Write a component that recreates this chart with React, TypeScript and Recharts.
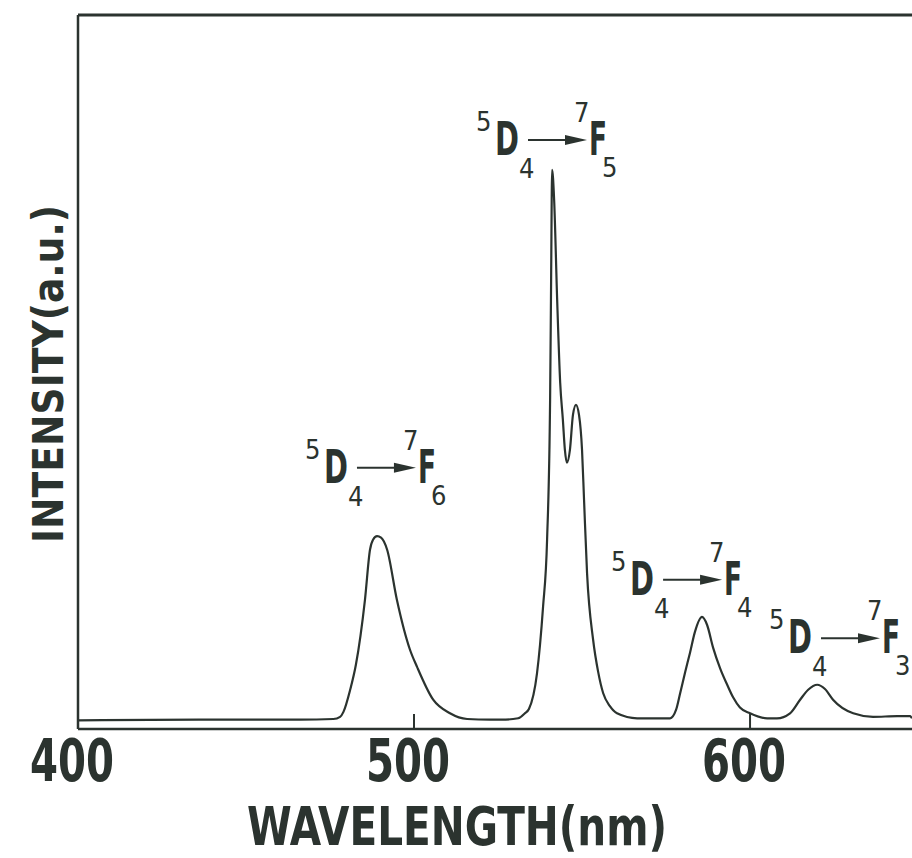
import { LineChart, Line, XAxis, YAxis, ReferenceLine, ReferenceDot } from 'recharts';

// Tb3+ emission spectrum, 5D4 -> 7FJ transitions
const wavelengths = [
  400.0, 436.0, 466.0, 476.0, 478.0, 479.0, 481.0, 482.7, 485.4, 486.9,
  487.8, 489.0, 490.2, 492.0, 494.9, 498.8, 500.9, 505.7, 510.7, 515.8,
  522.6, 526.0, 531.0, 533.0, 534.2, 536.6, 537.5, 538.4, 539.6, 540.5,
  540.8, 541.1, 541.7, 542.6, 543.5, 544.3, 544.9, 545.5, 546.4, 547.3,
  548.2, 549.1, 550.0, 550.6, 551.5, 553.3, 554.8, 556.3, 558.3, 560.4,
  566.4, 576.2, 578.0, 579.2, 580.7, 582.1, 583.6, 585.7, 587.2, 589.0,
  591.1, 593.2, 595.0, 597.0, 600.0, 605.1, 608.0, 611.9, 614.9, 617.3,
  620.0, 622.3, 624.7, 630.7, 636.6, 643.8, 647.6, 648.2,
];
const intensities = [
  1.2, 1.3, 1.3, 1.4, 1.7, 2.4, 5.5, 9.0, 18.1, 25.1,
  26.5, 27.0, 26.8, 25.1, 18.1, 11.1, 8.7, 4.1, 2.2, 1.4,
  1.3, 1.3, 1.5, 2.2, 2.8, 7.8, 11.8, 17.1, 26.5, 46.1,
  62.9, 78.3, 74.1, 60.1, 48.5, 43.3, 39.1, 37.3, 39.1, 44.0,
  45.4, 44.0, 39.1, 32.1, 21.8, 12.5, 8.0, 5.0, 3.2, 2.2,
  1.5, 1.5, 2.7, 5.0, 8.0, 10.6, 13.6, 15.7, 14.6, 11.4,
  8.5, 6.2, 4.4, 3.0, 2.2, 1.5, 1.5, 2.2, 4.1, 5.5,
  6.2, 5.6, 4.1, 2.2, 1.7, 1.8, 1.8, 1.5,
];
const xTicks = [400, 500, 600];
// final J of each 5D4 -> 7FJ band
const finalJ = ['6', '5', '4', '3'];

const spectrum = wavelengths.map((w, i) => ({ w, y: intensities[i] }));

// where each transition label sits (wavelength, intensity)
const labelAnchors: [number, number][] = [
  [473.2, 34.5],
  [524.1, 80.4],
  [564.3, 18.8],
  [611.3, 10.6],
];

const INK = '#2b332f';
const FONT = '"Liberation Sans Narrow", "DejaVu Sans Condensed", "Arial Narrow", sans-serif';

const TransitionLabel = ({ cx, cy, j }: any) => {
  const x = cx;
  const y = cy;
  return (
    <g fill={INK} fontFamily={FONT} style={{ fontStretch: 'condensed' }}>
      <text x={x - 19} y={y - 24} fontSize={27}>5</text>
      <text x={x} y={y} fontSize={46} fontWeight="bold" textLength={24} lengthAdjust="spacingAndGlyphs">D</text>
      <text x={x + 24} y={y + 23} fontSize={27}>4</text>
      <line x1={x + 33} y1={y - 15} x2={x + 74} y2={y - 15} stroke={INK} strokeWidth={2} />
      <polygon points={`${x + 70},${y - 20} ${x + 92},${y - 15} ${x + 70},${y - 10}`} />
      <text x={x + 79} y={y - 33} fontSize={27}>7</text>
      <text x={x + 94} y={y} fontSize={46} fontWeight="bold" textLength={18} lengthAdjust="spacingAndGlyphs">F</text>
      <text x={x + 107} y={y + 22} fontSize={27}>{j}</text>
    </g>
  );
};

const WaveTick = ({ x, y, payload }: any) => (
  <g>
    <line x1={x} y1={y} x2={x} y2={y - 15} stroke={INK} strokeWidth={2} />
    <text
      x={x - 6}
      y={y + 52}
      textAnchor="middle"
      fontSize={58}
      fontWeight="bold"
      fontFamily={FONT}
      fill={INK}
      textLength={84}
      lengthAdjust="spacingAndGlyphs"
    >
      {payload.value}
    </text>
  </g>
);

export default function App() {
  return (
    <div style={{ width: 912, height: 858, background: '#fff' }}>
      <style>{'body{margin:0}'}</style>
      <LineChart
        width={912}
        height={858}
        data={spectrum}
        margin={{ top: 15, right: 0, bottom: 0, left: 0 }}
      >
        <XAxis
          dataKey="w"
          type="number"
          domain={[400, 648.2]}
          allowDataOverflow
          ticks={xTicks}
          height={129}
          tickSize={0}
          tickMargin={0}
          tickLine={false}
          axisLine={{ stroke: INK, strokeWidth: 2.5 }}
          tick={<WaveTick />}
          label={{
            content: () => (
              <text
                x={457}
                y={845}
                textAnchor="middle"
                fontSize={54}
                fontWeight="bold"
                fontFamily={FONT}
                fill={INK}
                textLength={420}
                lengthAdjust="spacingAndGlyphs"
              >
                WAVELENGTH(nm)
              </text>
            ),
          }}
        />
        <YAxis
          type="number"
          domain={[0, 100]}
          allowDataOverflow
          width={78}
          tick={false}
          tickLine={false}
          axisLine={{ stroke: INK, strokeWidth: 2.5 }}
          label={{
            content: () => (
              <text
                x={63}
                y={374}
                transform="rotate(-90 63 374)"
                textAnchor="middle"
                fontSize={43}
                fontWeight="bold"
                fontFamily={FONT}
                fill={INK}
                textLength={338}
                lengthAdjust="spacingAndGlyphs"
              >
                INTENSITY(a.u.)
              </text>
            ),
          }}
        />
        <ReferenceLine y={100} stroke={INK} strokeWidth={3} />
        <Line
          type="monotone"
          dataKey="y"
          stroke={INK}
          strokeWidth={2.2}
          dot={false}
          isAnimationActive={false}
        />
        {labelAnchors.map(([w, v], i) => (
          <ReferenceDot
            key={finalJ[i]}
            x={w}
            y={v}
            r={0}
            ifOverflow="visible"
            shape={(p: any) => <TransitionLabel cx={p.cx} cy={p.cy} j={finalJ[i]} />}
          />
        ))}
      </LineChart>
    </div>
  );
}
